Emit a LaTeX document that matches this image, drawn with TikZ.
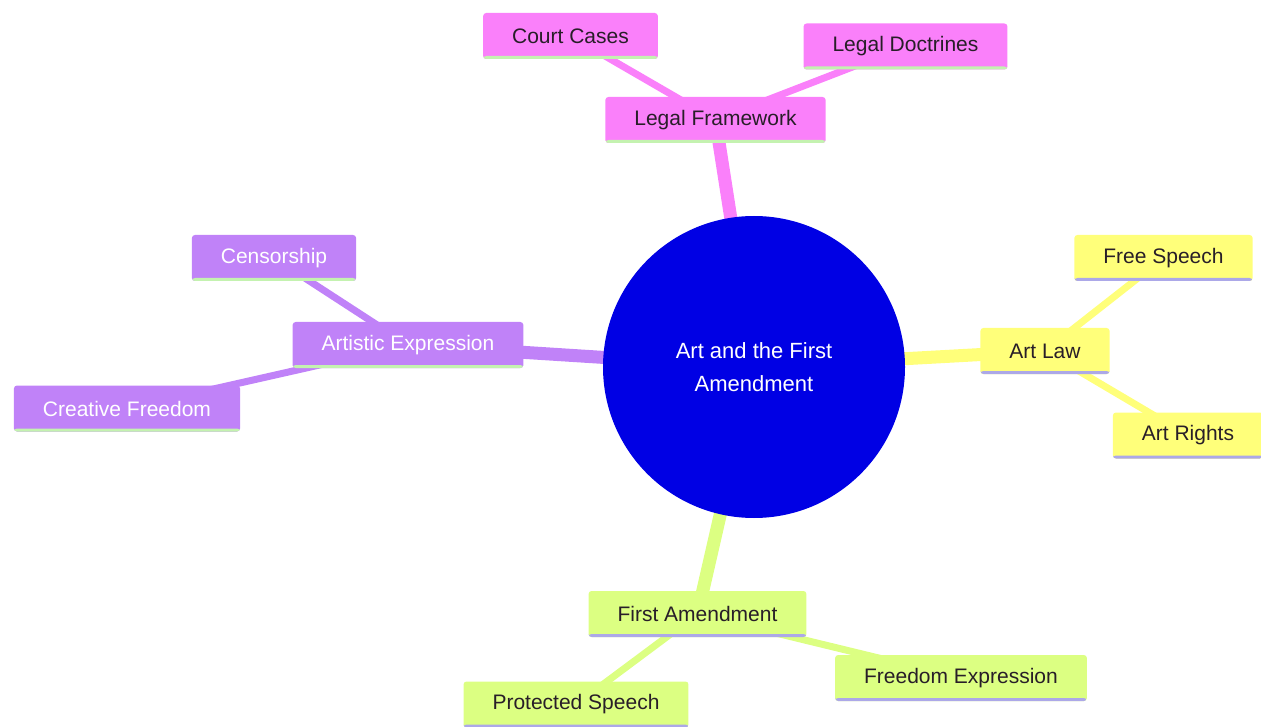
\documentclass[tikz,border=0pt]{standalone}
\usepackage{fontspec}
\setmainfont{Liberation Sans}
\usepackage{xcolor}
\definecolor{rootblue}{RGB}{0,0,228}
\definecolor{mypink}{RGB}{250,128,250}
\definecolor{mypurple}{RGB}{192,130,248}
\definecolor{myyellow}{RGB}{255,255,122}
\definecolor{mygreen}{RGB}{220,255,130}
\definecolor{lineGreen}{RGB}{196,242,176}
\definecolor{lineLav}{RGB}{172,168,232}
\definecolor{darktext}{RGB}{40,30,40}
\usetikzlibrary{calc}
\usetikzlibrary{backgrounds}
\tikzset{
    common/.style={rectangle, rounded corners=3pt, minimum height=46pt, inner xsep=29pt, font=\fontsize{21}{25}\selectfont},
    underline/.style={path picture={
            \fill[#1] (path picture bounding box.south west) rectangle ([yshift=3pt]path picture bounding box.south east);
        }},
    pinkbox/.style={common, fill=mypink, text=darktext, underline=lineGreen},
    purplebox/.style={common, fill=mypurple, text=white, underline=lineGreen},
    yellowbox/.style={common, fill=myyellow, text=darktext, underline=lineLav},
    greenbox/.style={common, fill=mygreen, text=darktext, underline=lineLav},
    rootnode/.style={circle, fill=rootblue, text=white, minimum size=302pt, align=center, font=\fontsize{22}{33}\selectfont},
    branch/.style={line width=13pt, #1},
    twig/.style={line width=7pt, #1}
}
\begin{document}
\begin{tikzpicture}[x=1pt, y=-1pt]
    \useasboundingbox (0,0) rectangle (1261,727);

    \node[rootnode] (root) at (754,367) {Art and the First\\Amendment};

    \node[pinkbox] (frame) at (715.5,120) {Legal Framework};
    \node[pinkbox] (cases) at (570.5,36) {Court Cases};
    \node[pinkbox] (doctr) at (905.5,46.5) {Legal Doctrines};

    \node[purplebox] (artexp) at (408,345) {Artistic Expression};
    \node[purplebox] (censor) at (274,258) {Censorship};
    \node[purplebox] (creat) at (127,408.5) {Creative Freedom};

    \node[yellowbox] (artlaw) at (1045,351) {Art Law};
    \node[yellowbox] (freesp) at (1163.5,258) {Free Speech};
    \node[yellowbox] (rights) at (1188,435.5) {Art Rights};

    \node[greenbox] (firsta) at (697.5,614) {First Amendment};
    \node[greenbox] (protsp) at (576,704.5) {Protected Speech};
    \node[greenbox] (freeex) at (961,678) {Freedom Expression};

    % connectors, drawn behind the nodes
    \begin{scope}[on background layer]
        \draw[branch=mypink] (root.center) -- (frame.center);
        \draw[twig=mypink] (frame.center) -- (cases.center) (frame.center) -- (doctr.center);
        \draw[branch=mypurple] (root.center) -- (artexp.center);
        \draw[twig=mypurple] (artexp.center) -- (censor.center) (artexp.center) -- (creat.center);
        \draw[branch=myyellow] (root.center) -- (artlaw.center);
        \draw[twig=myyellow] (artlaw.center) -- (freesp.center) (artlaw.center) -- (rights.center);
        \draw[branch=mygreen] (root.center) -- (firsta.center);
        \draw[twig=mygreen] (firsta.center) -- (protsp.center) (firsta.center) -- (freeex.center);
    \end{scope}
\end{tikzpicture}
\end{document}
